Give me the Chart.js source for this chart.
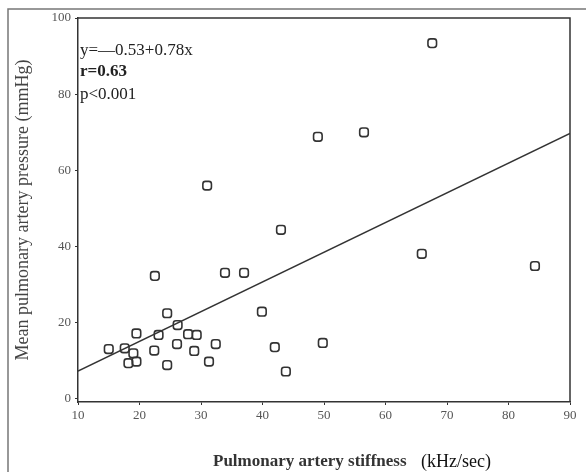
<!DOCTYPE html>
<html>
<head>
<meta charset="utf-8">
<script src="https://cdn.jsdelivr.net/npm/chart.js@4.4.1/dist/chart.umd.min.js"></script>
<style>
  body { margin: 0; background: #fff; }
  canvas { display: block; }
</style>
</head>
<body>
<canvas id="stiffChart" width="586" height="472"></canvas>
<script>
// values
var stiffness = [67.6, 49.0, 56.5, 31.0, 43.0, 22.5, 33.9, 37.0, 65.9, 84.3, 49.8, 43.8,
                 24.5, 26.2, 39.9, 19.5, 23.1, 27.9, 29.3, 15.0, 17.6, 19.0, 22.4, 26.1,
                 28.9, 32.4, 42.0, 18.2, 19.5, 24.5, 31.3];
var pressure = [93.4, 68.8, 70.0, 56.0, 44.4, 32.3, 33.1, 33.1, 38.1, 34.9, 14.7, 7.2,
                22.5, 19.4, 22.9, 17.2, 16.8, 17.0, 16.8, 13.1, 13.3, 12.0, 12.7, 14.4,
                12.6, 14.4, 13.6, 9.4, 9.8, 8.9, 9.8];
var fitX = [10, 90];
var fitY = [7.3, 69.7];
var xTicks = [10, 20, 30, 40, 50, 60, 70, 80, 90];
var yTicks = [0, 20, 40, 60, 80, 100];
var statsText = ['y=\u20140.53+0.78x', 'r=0.63', 'p<0.001'];

var pts = [];
for (var i = 0; i < stiffness.length; i++) {
    pts.push({ x: stiffness[i], y: pressure[i] });
}
var fitPts = [];
for (var j = 0; j < fitX.length; j++) {
    fitPts.push({ x: fitX[j], y: fitY[j] });
}

var serif = '"Liberation Serif", "DejaVu Serif", serif';

var extras = {
    id: 'extras',
    afterDraw: function (chart) {
        var c = chart.ctx;
        var a = chart.chartArea;
        c.save();
        // outer frame
        c.strokeStyle = '#777';
        c.lineWidth = 1.5;
        c.beginPath();
        c.moveTo(8, 472);
        c.lineTo(8, 9);
        c.lineTo(586, 9);
        c.stroke();
        // plot box top and right
        c.strokeStyle = '#333';
        c.lineWidth = 1.5;
        c.beginPath();
        c.moveTo(a.left, a.top);
        c.lineTo(a.right, a.top);
        c.lineTo(a.right, a.bottom);
        c.stroke();
        // stats
        c.fillStyle = '#222';
        c.textBaseline = 'middle';
        c.textAlign = 'left';
        c.font = '17px ' + serif;
        c.fillText(statsText[0], 80, 51);
        c.font = 'bold 17px ' + serif;
        c.fillText(statsText[1], 80, 72);
        c.font = '17px ' + serif;
        c.fillText(statsText[2], 80, 95);
        // x title
        c.font = 'bold 17px ' + serif;
        c.fillStyle = '#333';
        c.fillText('Pulmonary artery stiffness', 213, 462);
        c.font = '18px ' + serif;
        c.fillStyle = '#111';
        c.fillText('(kHz/sec)', 421, 462);
        c.restore();
    }
};

var ctx = document.getElementById('stiffChart').getContext('2d');
var stiffChart = new Chart(ctx, {
    type: 'scatter',
    data: {
        datasets: [{
            data: pts,
            pointStyle: 'rectRounded',
            pointRadius: 5,
            pointHoverRadius: 5,
            borderColor: '#333',
            backgroundColor: 'rgba(255,255,255,0)',
            borderWidth: 1.6
        }, {
            type: 'line',
            data: fitPts,
            borderColor: '#333',
            borderWidth: 1.5,
            pointRadius: 0,
            fill: false
        }]
    },
    options: {
        responsive: false,
        animation: false,
        layout: { padding: { top: 18, right: 16, bottom: 0, left: 0 } },
        plugins: { legend: { display: false }, tooltip: { enabled: false } },
        scales: {
            x: {
                type: 'linear',
                min: 10,
                max: 90,
                afterBuildTicks: function (s) { s.ticks = xTicks.map(function (v) { return { value: v }; }); },
                afterFit: function (s) { s.height = 70; },
                grid: { display: true, drawOnChartArea: false, tickLength: 3, color: '#333' },
                border: { color: '#333', width: 1.5 },
                ticks: { color: '#555', font: { family: serif, size: 13 }, padding: 3, maxRotation: 0 }
            },
            y: {
                type: 'linear',
                min: -0.8,
                max: 100,
                afterBuildTicks: function (s) { s.ticks = yTicks.map(function (v) { return { value: v }; }); },
                afterFit: function (s) { s.width = 78; },
                grid: { display: true, drawOnChartArea: false, tickLength: 3, color: '#333' },
                border: { color: '#333', width: 1.5 },
                ticks: { color: '#555', font: { family: serif, size: 13 }, padding: 4 },
                title: {
                    display: true,
                    text: 'Mean pulmonary artery pressure (mmHg)',
                    color: '#444',
                    font: { family: serif, size: 18 },
                    padding: { top: 12, bottom: 0 }
                }
            }
        }
    },
    plugins: [extras]
});
</script>
</body>
</html>
